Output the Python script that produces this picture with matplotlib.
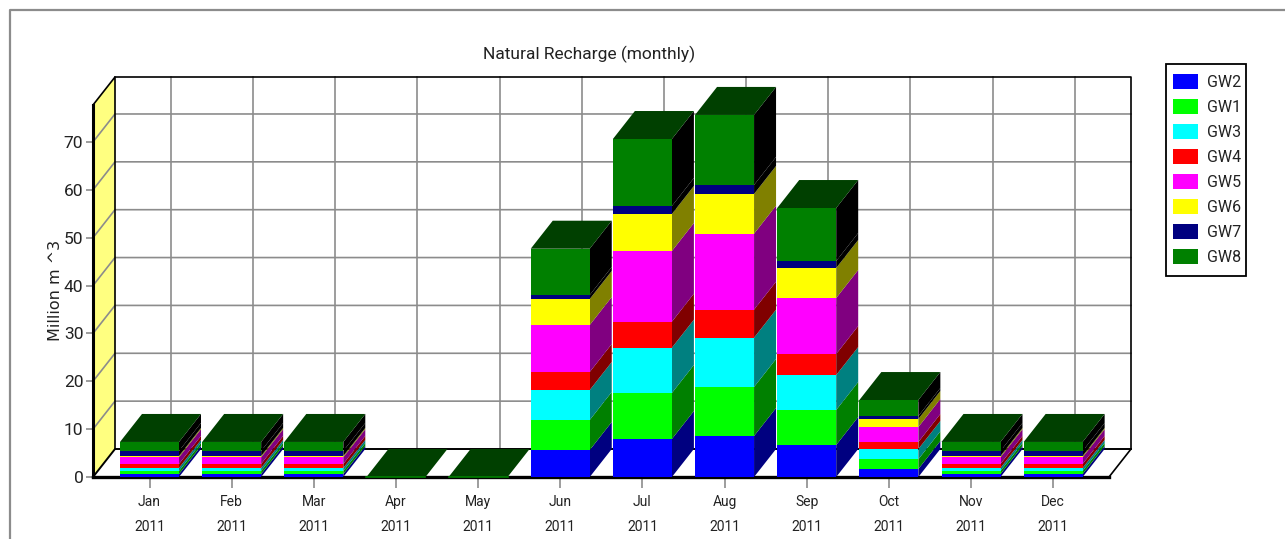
import numpy as np
import matplotlib
matplotlib.use('Agg')
import matplotlib.pyplot as plt
from matplotlib.patches import Patch, Rectangle

months = ['Jan', 'Feb', 'Mar', 'Apr', 'May', 'Jun', 'Jul', 'Aug', 'Sep', 'Oct', 'Nov', 'Dec']
year = '2011'
names = ['GW2', 'GW1', 'GW3', 'GW4', 'GW5', 'GW6', 'GW7', 'GW8']

gw2 = [0.63, 0.63, 0.63, 0, 0, 5.64, 7.94, 8.57, 6.69, 1.67, 0.63, 0.63]
gw1 = [0.63, 0.63, 0.63, 0, 0, 6.27, 9.61, 10.24, 7.31, 2.03, 0.63, 0.63]
gw3 = [0.63, 0.63, 0.63, 0, 0, 6.27, 9.47, 10.30, 7.31, 2.15, 0.63, 0.63]
gw4 = [0.84, 0.84, 0.84, 0, 0, 3.76, 5.43, 5.85, 4.39, 1.46, 0.84, 0.84]
gw5 = [1.40, 1.40, 1.40, 0, 0, 9.82, 14.77, 15.88, 11.70, 3.13, 1.40, 1.40]
gw6 = [0.27, 0.27, 0.27, 0, 0, 5.43, 7.73, 8.30, 6.27, 1.67, 0.27, 0.27]
gw7 = [1.04, 1.04, 1.04, 0, 0, 0.84, 1.67, 1.88, 1.46, 0.63, 1.04, 1.04]
gw8 = [1.88, 1.88, 1.88, 0, 0, 9.67, 14.00, 14.63, 11.07, 3.34, 1.88, 1.88]
series = [gw2, gw1, gw3, gw4, gw5, gw6, gw7, gw8]

front_cols = ['#0000ff', '#00ff00', '#00ffff', '#ff0000', '#ff00ff', '#ffff00', '#000080', '#008000']
side_cols = ['#000080', '#008000', '#008080', '#800000', '#800080', '#808000', '#000000', '#000000']
top_col = '#004000'

W, H = 1285, 539
# pixel layout of the front plane
x0, x1 = 93, 1109
y0, ytop = 477, 105
px_per_cat = 82.15
px_per_unit = 4.786
DX = 22 / px_per_cat
DY = 28 / px_per_unit
bar_w = 59 / px_per_cat
gray = '#8c8c8c'

plt.rcParams['font.family'] = ['Roboto', 'DejaVu Sans']

fig = plt.figure(figsize=(W / 100, H / 100), dpi=100)
fig.patch.set_facecolor('white')
# outer frame: only top and left edges are in the picture
fig.add_artist(plt.Line2D([9.5 / W, 9.5 / W, 1], [0, 1 - 9.5 / H, 1 - 9.5 / H], transform=fig.transFigure,
                          color=gray, lw=1.6))

ax = fig.add_axes([x0 / W, (H - y0) / H, (x1 - x0) / W, (y0 - ytop) / H])
ax.patch.set_alpha(0)
xleft = -56.5 / px_per_cat
xright = xleft + (x1 - x0) / px_per_cat
ymax = (y0 - ytop) / px_per_unit
ax.set_xlim(xleft, xright)
ax.set_ylim(0, ymax)

# walls
ax.fill([xleft, xleft + DX, xleft + DX, xleft], [0, DY, ymax + DY, ymax], color='#ffff80', lw=0, zorder=1, clip_on=False)
ax.plot([xleft, xleft + DX, xleft + DX], [ymax, ymax + DY, DY], color='k', lw=1.2, zorder=3, clip_on=False)
ax.plot([xleft + DX, xright + DX, xright + DX, xright], [ymax + DY, ymax + DY, DY, 0], color='k', lw=1.2, zorder=3, clip_on=False)
ax.plot([xleft, xleft + DX, xright + DX], [0, DY, DY], color='k', lw=1.4, zorder=3, clip_on=False)

yticks = list(range(0, 80, 10))
for v in yticks[1:]:
    ax.plot([xleft, xleft + DX, xright + DX], [v, v + DY, v + DY], color=gray, lw=1.2, zorder=2, clip_on=False)
grid_dx = 21.5 / px_per_cat
for i in range(len(months)):
    ax.plot([i + grid_dx, i + grid_dx], [DY, ymax + DY], color=gray, lw=1.2, zorder=2, clip_on=False)

# bars, each stack drawn bottom to top
xs = np.arange(len(months))
bottoms = np.zeros(len(months))
for vals, fc, sc, name in zip(series, front_cols, side_cols, names):
    vals = np.array(vals)
    ax.bar(xs, vals, width=bar_w, bottom=bottoms, color=fc, lw=0, zorder=6, clip_on=False, label=name)
    for x, b, v in zip(xs, bottoms, vals):
        if v == 0:
            continue
        xr = x + bar_w / 2
        ax.fill([xr, xr + DX, xr + DX, xr], [b, b + DY, b + v + DY, b + v], color=sc, lw=0, zorder=5, clip_on=False)
    bottoms = bottoms + vals
for x, t in zip(xs, bottoms):
    xl = x - bar_w / 2
    xr = x + bar_w / 2
    ax.fill([xl, xl + DX, xr + DX, xr], [t, t + DY, t + DY, t], color=top_col, lw=0, zorder=5, clip_on=False)
    if t == 0:
        ax.plot([xl, xr], [0, 0], color='#008000', lw=1.2, zorder=7, clip_on=False)

for s in ['top', 'right']:
    ax.spines[s].set_visible(False)
ax.spines['left'].set_linewidth(2.2)
ax.spines['bottom'].set_linewidth(2.4)
ax.spines['left'].set_zorder(4)
ax.spines['bottom'].set_zorder(4)

ax.set_yticks(yticks)
ax.set_xticks(xs)
ax.set_xticklabels([m + '\n' + year for m in months], linespacing=2.0, fontsize=10, color='#222222')
ax.tick_params(axis='y', length=5, width=1.2, color=gray, labelsize=12.5, labelcolor='#222222', pad=2)
ax.tick_params(axis='x', length=8, width=1.2, color=gray, pad=5)

fig.text(589 / W, 1 - 54 / H, 'Natural Recharge (monthly)', ha='center', va='center', fontsize=12.5, color='#222222')
fig.text(56 / W, 1 - 290 / H, 'Million m ^3', rotation=90, ha='center', va='center', fontsize=11.5,
         family=['DejaVu Sans'], color='#222222')

# legend box drawn separately so its width can follow the reference
fig.add_artist(Rectangle((1166 / W, 1 - 276 / H), 80 / W, 212 / H, transform=fig.transFigure,
                         fc='white', ec='k', lw=1.3))
handles = [Patch(fc=c, ec='none') for c in front_cols]
leg = fig.legend(handles, names, loc='upper left', bbox_to_anchor=(1163.4 / W, 1 - 64 / H), fontsize=11.5,
                 frameon=False, borderpad=0.62, handlelength=1.57, handleheight=1.06, handletextpad=0.54,
                 labelspacing=0.57, borderaxespad=0, labelcolor='#222222')

fig.savefig('out.png', dpi=100)
